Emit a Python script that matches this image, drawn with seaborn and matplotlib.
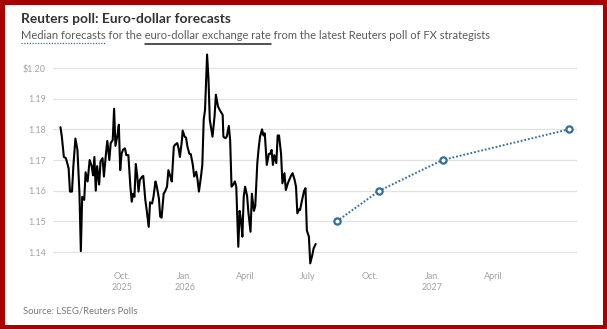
import pandas as pd
import matplotlib.pyplot as plt
from matplotlib.lines import Line2D
from matplotlib.patches import Rectangle
import seaborn as sns

sns.set_style("white")
plt.rcParams['font.family'] = ['Lato', 'DejaVu Sans']

# daily euro-dollar spot, days counted from 1 July 2025
start = pd.Timestamp("2025-07-01")
day_offsets = [1, 3, 4, 6, 9, 13, 15, 18, 20, 23, 26, 29, 31, 33, 36, 38, 41, 44, 47, 49,
               51, 53, 55, 58, 60, 63, 65, 68, 70, 73, 75, 78, 80, 82, 85, 87, 89, 91, 93, 96,
               98, 101, 104, 106, 108, 110, 112, 114, 116, 118, 121, 123, 126, 128, 131, 133, 136, 138, 141, 143,
               146, 148, 150, 153, 155, 158, 160, 163, 165, 168, 170, 173, 175, 177, 180, 181, 184, 186, 188, 191,
               193, 196, 198, 201, 203, 205, 208, 210, 212, 214, 217, 219, 221, 223, 225, 228, 230, 233, 235, 237,
               240, 241, 244, 246, 249, 251, 253, 255, 258, 260, 263, 265, 267, 269, 271, 273, 276, 278, 281, 283,
               286, 288, 291, 293, 295, 298, 300, 302, 304, 305, 308, 310, 312, 314, 316, 319, 321, 323, 326, 328,
               331, 333, 336, 338, 341, 343, 346, 348, 350, 353, 354, 357, 360, 362, 364, 367, 369, 372, 374, 377]
eurusd = [1.1807, 1.1776, 1.1755, 1.1710, 1.1706, 1.1673, 1.1597, 1.1597, 1.1680, 1.1770,
          1.1733, 1.1590, 1.1403, 1.1580, 1.1570, 1.1660, 1.1630, 1.1700, 1.1680, 1.1650,
          1.1710, 1.1600, 1.1680, 1.1620, 1.1695, 1.1706, 1.1646, 1.1720, 1.1762, 1.1700,
          1.1755, 1.1765, 1.1867, 1.1746, 1.1782, 1.1815, 1.1667, 1.1720, 1.1733, 1.1738,
          1.1716, 1.1716, 1.1613, 1.1564, 1.1590, 1.1580, 1.1687, 1.1650, 1.1597, 1.1635,
          1.1645, 1.1648, 1.1570, 1.1537, 1.1482, 1.1562, 1.1558, 1.1580, 1.1630, 1.1613,
          1.1575, 1.1515, 1.1512, 1.1590, 1.1597, 1.1613, 1.1667, 1.1646, 1.1630, 1.1744,
          1.1750, 1.1755, 1.1738, 1.1710, 1.1765, 1.1796, 1.1776, 1.1773, 1.1744, 1.1720,
          1.1719, 1.1684, 1.1646, 1.1662, 1.1635, 1.1597, 1.1646, 1.1684, 1.1831, 1.1864,
          1.2044, 1.1967, 1.1831, 1.1804, 1.1776, 1.1842, 1.1913, 1.1875, 1.1866, 1.1858,
          1.1847, 1.1776, 1.1771, 1.1776, 1.1811, 1.1765, 1.1613, 1.1618, 1.1630, 1.1613,
          1.1417, 1.1534, 1.1504, 1.1450, 1.1580, 1.1613, 1.1582, 1.1526, 1.1466, 1.1590,
          1.1534, 1.1550, 1.1690, 1.1738, 1.1776, 1.1800, 1.1780, 1.1787, 1.1720, 1.1684,
          1.1720, 1.1720, 1.1733, 1.1684, 1.1716, 1.1690, 1.1780, 1.1780, 1.1720, 1.1624,
          1.1657, 1.1602, 1.1624, 1.1635, 1.1650, 1.1657, 1.1635, 1.1613, 1.1526, 1.1540,
          1.1537, 1.1570, 1.1600, 1.1608, 1.1470, 1.1450, 1.1363, 1.1390, 1.1412, 1.1426]

# Reuters poll median forecasts
fc_dates = ["2026-08-13", "2026-10-15", "2027-01-16", "2027-07-21"]
fc_values = [1.15, 1.16, 1.17, 1.18]

ytick_vals = [1.14, 1.15, 1.16, 1.17, 1.18, 1.19, 1.20]
ytick_labels = ["1.14", "1.15", "1.16", "1.17", "1.18", "1.19", "$1.20"]
xtick_dates = ["2025-10-01", "2026-01-01", "2026-04-01", "2026-07-01",
               "2026-10-01", "2027-01-01", "2027-04-01"]
xtick_labels = ["Oct.\n2025", "Jan.\n2026", "April", "July", "Oct.", "Jan.\n2027", "April"]

hist = pd.DataFrame({"date": start + pd.to_timedelta(day_offsets, unit="D"), "rate": eurusd})
fc = pd.DataFrame({"date": pd.to_datetime(fc_dates), "rate": fc_values})

fig = plt.figure(figsize=(6.07, 3.29), dpi=100)
ax = fig.add_axes([53 / 607, 1 - 270.4 / 329, 524 / 607, 220.8 / 329])

blue = "#2f6e9e"
sns.lineplot(data=hist, x="date", y="rate", color="black", lw=1.5, ax=ax)
sns.lineplot(data=fc, x="date", y="rate", color=blue, lw=1.4, ax=ax,
             linestyle=(0, (0.9, 1.0)), marker="o", markersize=4.5,
             markerfacecolor="white", markeredgecolor=blue, markeredgewidth=1.6)

ax.set_ylim(1.134, 1.206)
ax.set_xlim(pd.Timestamp("2025-06-21"), pd.Timestamp("2027-08-02"))
ax.set_yticks(ytick_vals)
ax.set_yticklabels(ytick_labels)
ax.set_xticks(pd.to_datetime(xtick_dates))
ax.set_xticklabels(xtick_labels)
for lbl in ax.get_xticklabels():
    lbl.set_linespacing(1.35)
ax.set_xlabel("")
ax.set_ylabel("")
ax.tick_params(length=0, labelsize=6.5, colors="#a3a3a3")
ax.tick_params(axis="y", pad=5)
ax.tick_params(axis="x", pad=1)
ax.yaxis.grid(True, color="#e2e2e2", lw=0.9)
ax.xaxis.grid(False)
ax.set_axisbelow(True)
sns.despine(ax=ax, left=True, bottom=True)

# titles
x0 = 21 / 607
fig.text(x0, 1 - 23 / 329, "Reuters poll: Euro-dollar forecasts", fontsize=9.9,
         fontweight="bold", color="#333333", va="baseline")
sub_kw = dict(fontsize=8.0, color="#5a5a5a")
subtitle = "Median forecasts for the euro-dollar exchange rate from the latest Reuters poll of FX strategists"
fig.text(x0, 1 - 39 / 329, subtitle, va="baseline", **sub_kw)

renderer = fig.canvas.get_renderer()


def text_width(s):
    t = fig.text(0, 0, s, **sub_kw)
    w = t.get_window_extent(renderer).width
    t.remove()
    return w / fig.bbox.width


end1 = x0 + text_width("Median forecasts")
end2 = x0 + text_width("Median forecasts for the euro-dollar exchange rate")
start2 = end2 - text_width("euro-dollar exchange rate")
fig.add_artist(Line2D([x0, end1], [1 - 42.7 / 329] * 2, transform=fig.transFigure,
                      color=blue, lw=0.9, linestyle=(0, (1, 1.2))))
fig.add_artist(Line2D([start2, end2], [1 - 44.2 / 329] * 2, transform=fig.transFigure,
                      color="#222222", lw=1.1))

fig.text(x0 + 2 / 607, 1 - 314 / 329, "Source: LSEG/Reuters Polls", fontsize=6.8,
         color="#7a7a7a", va="baseline")

# red frame
fig.add_artist(Rectangle((0, 0), 1, 1, transform=fig.transFigure, fill=False,
                         edgecolor="#a80000", lw=6.5))

fig.savefig("out.png", dpi=100)
